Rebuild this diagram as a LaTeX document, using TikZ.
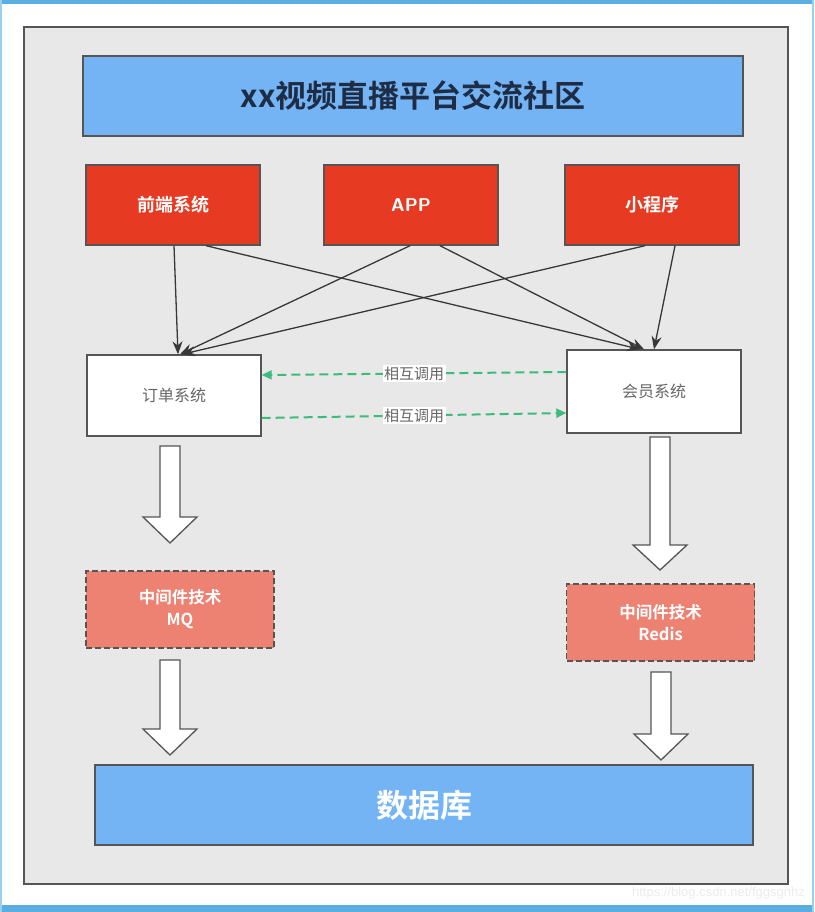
\documentclass[tikz,border=0pt]{standalone}
\usepackage{fontspec}
\setmainfont{Noto Sans CJK SC}
\newfontfamily\cjkb{Noto Sans CJK SC Bold}
\newfontfamily\cjk{Noto Sans CJK SC}
\usetikzlibrary{arrows.meta,calc}
\definecolor{frameblue}{HTML}{5AAFE0}
\definecolor{panelgray}{HTML}{E8E8E8}
\definecolor{edgegray}{HTML}{555555}
\definecolor{titleblue}{HTML}{74B4F4}
\definecolor{titletext}{HTML}{1E2D45}
\definecolor{appred}{HTML}{E63A22}
\definecolor{midsalmon}{HTML}{EE8272}
\definecolor{callgreen}{HTML}{3DBB7C}
\definecolor{linegray}{HTML}{383838}
\tikzset{
  bluebox/.style={draw=edgegray,line width=1.6pt,fill=titleblue,minimum width=660pt,minimum height=80pt,inner sep=0pt},
  redbox/.style={draw=edgegray,line width=1.4pt,fill=appred,minimum width=174pt,minimum height=80pt,inner sep=0pt,text=white,font=\cjkb\fontsize{18}{21}\selectfont},
  whitebox/.style={draw=edgegray,line width=1.4pt,fill=white,minimum width=174pt,minimum height=82pt,inner sep=0pt,text=black!60,font=\cjk\fontsize{16}{19}\selectfont},
  midbox/.style={draw=edgegray,line width=1.4pt,dashed,dash pattern=on 6pt off 3pt,fill=midsalmon,minimum width=188pt,minimum height=77pt,inner sep=0pt,text=white,align=center,font=\cjkb\fontsize{16.5}{22}\selectfont},
  conn/.style={draw=linegray,line width=1.3pt,-{Stealth[length=13pt,width=10pt]}},
  callarrow/.style={draw=callgreen,line width=2pt,dash pattern=on 9pt off 5pt,-{Triangle[length=10pt,width=9pt]}},
  calllabel/.style={fill=white,inner sep=1.5pt,text=black!60,font=\cjk\fontsize{15}{17}\selectfont},
  hollow/.style={draw=edgegray,line width=1.3pt,fill=white,line join=miter}
}
\newcommand{\hollowdown}[5]{% x, ytop, yhead, ytip, name
  \draw[hollow] (#1-10,#2) -- (#1+10,#2) -- (#1+10,#3) -- (#1+27,#3) -- (#1,#4) -- (#1-27,#3) -- (#1-10,#3) -- cycle;
}
\begin{document}
\begin{tikzpicture}[x=1pt,y=-1pt]
\useasboundingbox (0,0) rectangle (814,912);
\fill[white] (0,0) rectangle (814,912);
\fill[frameblue] (0,0) rectangle (814,4);
\fill[frameblue] (0,905) rectangle (814,912);
\fill[frameblue!60] (0,0) rectangle (2,912);
\fill[frameblue!60] (812,0) rectangle (814,912);
% panel
\draw[edgegray,line width=1.6pt,fill=panelgray] (24,27) rectangle (788,884);
% title
\node[bluebox,text=titletext,font=\cjkb\fontsize{31}{34}\selectfont] (title) at (413,96) {xx视频直播平台交流社区};
% red boxes
\node[redbox] (fe) at (173,205) {前端系统};
\node[redbox,font=\sffamily\bfseries\fontsize{18.5}{21}\selectfont] (app) at (411,205) {APP};
\node[redbox] (mini) at (652,205) {小程序};
% white boxes
\node[whitebox,minimum height=81pt] (order) at (174,395.5) {订单系统};
\node[whitebox,minimum height=83pt] (member) at (654,391.5) {会员系统};
% connectors
\draw[conn] ([xshift=1pt]fe.south) -- ([xshift=4pt]order.north);
\draw[conn] ([xshift=33pt]fe.south) -- ([xshift=-14pt]member.north);
\draw[conn] ([xshift=-1pt]app.south) -- ([xshift=6pt]order.north);
\draw[conn] ([xshift=29pt]app.south) -- ([xshift=-10pt]member.north);
\draw[conn] ([xshift=-7pt]mini.south) -- ([xshift=8pt]order.north);
\draw[conn] ([xshift=23pt]mini.south) -- ([xshift=0pt]member.north);
% mutual calls
\draw[callarrow] ([yshift=19.5pt]member.west) -- node[calllabel,pos=0.5] {相互调用} ([yshift=20.5pt]order.east);
\draw[callarrow] ([yshift=-22.5pt]order.east) -- node[calllabel,pos=0.5] {相互调用} ([yshift=-21.5pt]member.west);
% middleware
\node[midbox] (mq) at (180,609.5) {中间件技术\\MQ};
\node[midbox] (redis) at (660.5,622.5) {中间件技术\\Redis};
% database
\node[bluebox,minimum width=658pt,text=white,font=\cjkb\fontsize{32}{35}\selectfont] (db) at (424,805) {数据库};
% hollow arrows
\hollowdown{170}{446}{517}{543}{ha1}
\hollowdown{660}{437}{545}{570}{ha2}
\hollowdown{170}{660}{729}{755}{ha3}
\hollowdown{661}{672}{734}{760}{ha4}
% watermark
\node[anchor=east,text=white!85!gray,font=\fontspec{Liberation Sans}\fontsize{13}{15}\selectfont,inner sep=0pt] (wm) at (805,893) {https://blog.csdn.net/fggsgnhz};
\end{tikzpicture}
\end{document}
